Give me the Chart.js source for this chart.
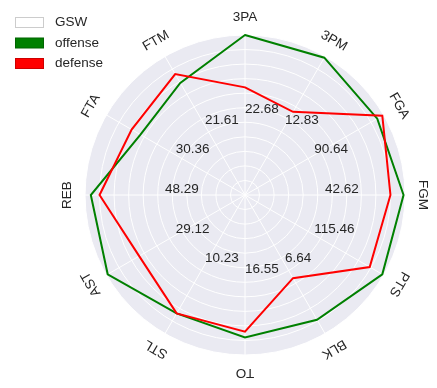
<!DOCTYPE html>
<html>
<head>
<meta charset="utf-8">
<script src="https://cdn.jsdelivr.net/npm/chart.js@4/dist/chart.umd.min.js"></script>
<style>
  html, body { margin: 0; padding: 0; background: #ffffff; }
  #wrap { width: 437px; height: 388px; }
</style>
</head>
<body>
<div id="wrap"><canvas id="c" width="437" height="388"></canvas></div>
<script>
// ---- data ----
const categories = ['3PA', '3PM', 'FGA', 'FGM', 'PTS', 'BLK', 'TO', 'STL', 'AST', 'REB', 'FTA', 'FTM'];
const offense = [1.10, 1.09, 1.05, 1.09, 1.09, 0.99, 0.98, 0.94, 1.09, 1.06, 0.83, 0.89];
const defense = [0.74, 0.66, 1.09, 1.00, 0.99, 0.66, 0.94, 0.94, 0.84, 1.00, 0.90, 0.96];
const valueLabels = ['22.68', '12.83', '90.64', '42.62', '115.46', '6.64', '16.55', '10.23', '29.12', '48.29', '30.36', '21.61'];
const legendLabels = ['GSW', 'offense', 'defense'];
const legendColors = ['#ffffff', '#008000', '#ff0000'];
const legendBorders = ['#cccccc', '#006400', '#cc0000'];
const valueLabelRadius = 0.55;
const scaleMax = 1.1;

const FONT = '"Liberation Sans", Arial, "DejaVu Sans", sans-serif';
const TEXT = '#262626';

const overlay = {
  id: 'overlay',
  afterDatasetsDraw(chart) {
    const ctx = chart.ctx;
    const s = chart.scales.r;
    ctx.save();
    // value labels
    ctx.font = '13.5px ' + FONT;
    ctx.fillStyle = TEXT;
    ctx.textAlign = 'left';
    ctx.textBaseline = 'alphabetic';
    valueLabels.forEach((t, i) => {
      const p = s.getPointPositionForValue(i, valueLabelRadius);
      ctx.fillText(t, p.x, p.y - 2);
    });
    // rotated category labels
    const rLab = s.drawingArea + 18;
    categories.forEach((t, i) => {
      const a = s.getIndexAngle(i);
      const x = s.xCenter + Math.sin(a) * rLab;
      const y = s.yCenter - Math.cos(a) * rLab;
      ctx.save();
      ctx.translate(x, y);
      ctx.rotate(a);
      ctx.textAlign = 'center';
      ctx.textBaseline = 'middle';
      ctx.fillText(t, 0, 0);
      ctx.restore();
    });
    // legend
    legendLabels.forEach((t, i) => {
      const y = 17 + i * 20.5;
      ctx.fillStyle = legendColors[i];
      ctx.strokeStyle = legendBorders[i];
      ctx.lineWidth = 1;
      ctx.fillRect(15.5, y + 0.5, 28, 10);
      ctx.strokeRect(15.5, y + 0.5, 28, 10);
      ctx.fillStyle = TEXT;
      ctx.textAlign = 'left';
      ctx.textBaseline = 'middle';
      ctx.fillText(t, 55, y + 5.5);
    });
    ctx.restore();
  }
};

new Chart(document.getElementById('c'), {
  type: 'radar',
  data: {
    labels: categories,
    datasets: [
      { label: 'defense', data: defense, borderColor: '#ff0000', borderWidth: 2, fill: false,
        pointRadius: 0, pointHoverRadius: 0, tension: 0, order: 0 },
      { label: 'offense', data: offense, borderColor: '#008000', borderWidth: 2, fill: false,
        pointRadius: 0, pointHoverRadius: 0, tension: 0, order: 1 }
    ]
  },
  options: {
    responsive: false,
    devicePixelRatio: 1,
    animation: false,
    layout: { padding: { left: 85, right: 32, top: 35, bottom: 33 } },
    plugins: { legend: { display: false }, tooltip: { enabled: false } },
    scales: {
      r: {
        min: 0,
        max: scaleMax,
        backgroundColor: '#eaeaf2',
        grid: { circular: true, color: '#ffffff', lineWidth: 1 },
        angleLines: { display: true, color: '#ffffff', lineWidth: 1 },
        ticks: { display: false, stepSize: 0.1 },
        pointLabels: { display: false }
      }
    }
  },
  plugins: [overlay]
});
</script>
</body>
</html>
